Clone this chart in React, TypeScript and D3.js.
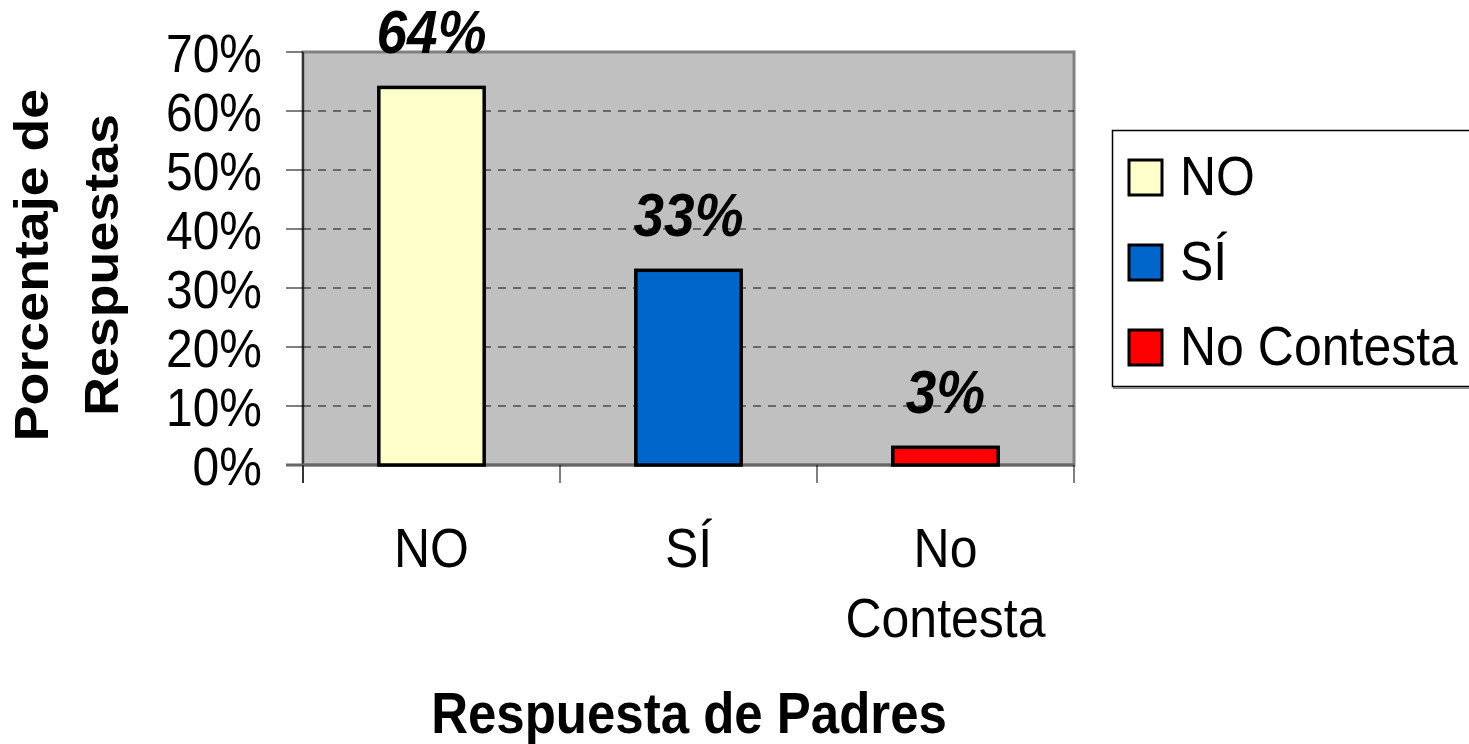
import React from "react";
import * as d3 from "d3";

const categories = ["NO", "SÍ", "No Contesta"];
const categoryLines = [["NO"], ["SÍ"], ["No", "Contesta"]];
const values = [0.64, 0.33, 0.03];
const valueLabels = ["64%", "33%", "3%"];
const colors = ["#FFFFCC", "#0066CC", "#FF0000"];
const yTicks = [0, 0.1, 0.2, 0.3, 0.4, 0.5, 0.6, 0.7];
const yTitleLines = ["Porcentaje de", "Respuestas"];
const xTitle = "Respuesta de Padres";

const W = 1469;
const H = 744;
const FONT = "'Liberation Sans', Arial, Helvetica, sans-serif";
const SY = 1.12;

export default function App() {
  const plot = { left: 303, right: 1074, top: 52, bottom: 465 };
  const x = d3.scaleBand<string>().domain(categories).range([plot.left, plot.right]).padding(0);
  const y = d3.scaleLinear().domain([0, 0.7]).range([plot.bottom, plot.top]);
  const barW = x.bandwidth() * 0.41;
  const fmt = d3.format(".0%");
  const st = (tx: number, ty: number) => `translate(${tx},${ty}) scale(1,${SY})`;

  return (
    <svg width={W} height={H} style={{ position: "absolute", left: 0, top: 0, background: "#fff" }}>
      {/* plot background */}
      <rect x={plot.left} y={plot.top} width={plot.right - plot.left} height={plot.bottom - plot.top} fill="#C0C0C0" stroke="#808080" strokeWidth={3} />
      {/* gridlines */}
      {yTicks.filter((t) => t > 0 && t < 0.7).map((t) => (
        <line key={"g" + t} x1={plot.left} x2={plot.right} y1={y(t)} y2={y(t)} stroke="#111" strokeWidth={1.2} strokeDasharray="8,7" />
      ))}
      {/* y axis */}
      <line x1={plot.left} x2={plot.left} y1={plot.top} y2={plot.bottom + 18} stroke="#000" strokeWidth={1.2} />
      {yTicks.map((t) => (
        <g key={"t" + t}>
          <line x1={plot.left - 17} x2={plot.left} y1={y(t)} y2={y(t)} stroke="#000" strokeWidth={1} />
          <text transform={st(262, y(t) + 20)} textAnchor="end" fontFamily={FONT} fontSize={48} fill="#000">
            {fmt(t)}
          </text>
        </g>
      ))}
      {/* x axis */}
      <line x1={plot.left - 17} x2={plot.right} y1={plot.bottom} y2={plot.bottom} stroke="#666" strokeWidth={3} />
      {[...categories.map((c) => x(c) as number), plot.right].map((v, i) => (
        <line key={"xt" + i} x1={v} x2={v} y1={plot.bottom} y2={plot.bottom + 18} stroke="#000" strokeWidth={1} />
      ))}
      {/* bars */}
      {categories.map((c, i) => {
        const cx = (x(c) as number) + x.bandwidth() / 2;
        return (
          <g key={c}>
            <rect x={cx - barW / 2} y={y(values[i])} width={barW} height={plot.bottom - y(values[i])} fill={colors[i]} stroke="#000" strokeWidth={3.5} />
            <text transform={st(cx, y(values[i]) - 34)} textAnchor="middle" fontFamily={FONT} fontSize={55} fontWeight="bold" fontStyle="italic" fill="#000">
              {valueLabels[i]}
            </text>
            {categoryLines[i].map((ln, j) => (
              <text key={j} transform={st(cx, 567 + j * 70)} textAnchor="middle" fontFamily={FONT} fontSize={50} fill="#000">
                {ln}
              </text>
            ))}
          </g>
        );
      })}
      {/* x title */}
      <text transform={st(689, 733)} textAnchor="middle" fontFamily={FONT} fontSize={51} fontWeight="bold" fill="#000">
        {xTitle}
      </text>
      {/* y title */}
      {yTitleLines.map((ln, j) => (
        <text key={ln} transform={`translate(${48 + j * 70},265) scale(1,${SY}) rotate(-90)`} textAnchor="middle" fontFamily={FONT} fontSize={48} fontWeight="bold" fill="#000">
          {ln}
        </text>
      ))}
      {/* legend */}
      <rect x={1112.5} y={130.5} width={370} height={256} fill="#fff" stroke="#000" strokeWidth={1.5} />
      <line x1={1113} x2={1469} y1={388} y2={388} stroke="#888" strokeWidth={2} />
      {categories.map((c, i) => (
        <g key={"l" + c}>
          <rect x={1129} y={160 + i * 85} width={33} height={35} fill={colors[i]} stroke="#000" strokeWidth={3} />
          <text transform={st(1180, 195 + i * 85)} fontFamily={FONT} fontSize={50} fill="#000">
            {c}
          </text>
        </g>
      ))}
    </svg>
  );
}
